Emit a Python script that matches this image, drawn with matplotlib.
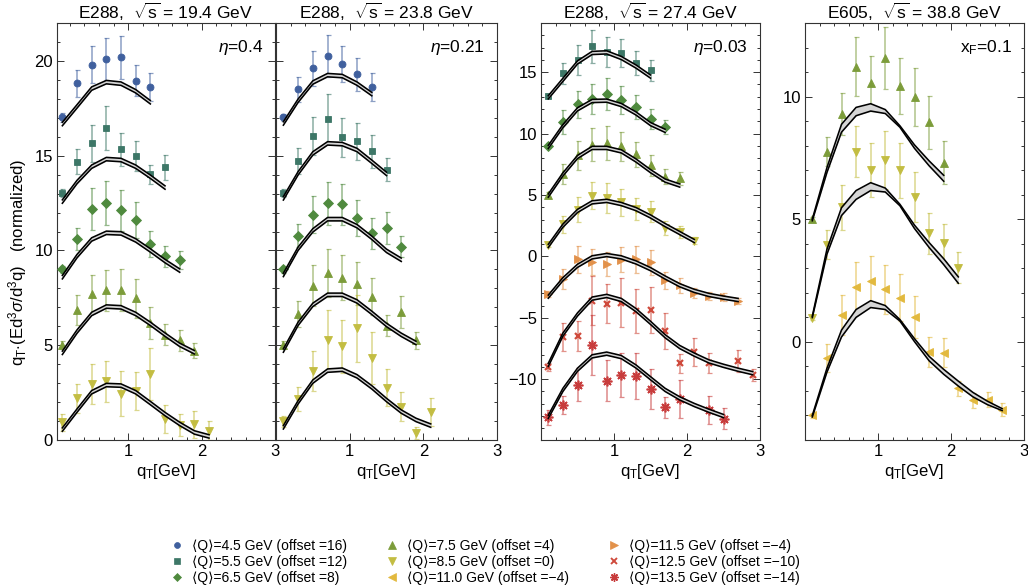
import numpy as np
import matplotlib
matplotlib.use("Agg")
import matplotlib.pyplot as plt
from matplotlib.lines import Line2D
from matplotlib.ticker import MultipleLocator
from matplotlib.colors import to_rgba

plt.rcParams['font.family'] = ['Liberation Sans', 'DejaVu Sans']
plt.rcParams['mathtext.fontset'] = 'custom'
plt.rcParams['mathtext.rm'] = 'Liberation Sans'
plt.rcParams['mathtext.it'] = 'Liberation Sans:italic'
plt.rcParams['mathtext.sf'] = 'Liberation Sans'

# qT bin centres [GeV]
qt = [0.1, 0.3, 0.5, 0.7, 0.9, 1.1, 1.3, 1.5, 1.7, 1.9, 2.1, 2.3, 2.5, 2.7, 2.9]

# series: <Q>, offset, colour, marker
series_q = ['4.5', '5.5', '6.5', '7.5', '8.5', '11.0', '11.5', '12.5', '13.5']
series_offset = ['16', '12', '8', '4', '0', '\u22124', '\u22124', '\u221210', '\u221214']
series_color = ['#40609e', '#3d7767', '#4f8a3e', '#7c9c3a', '#c3bd42',
                '#e2b93e', '#e2914a', '#cf4a3c', '#c83c3c']
series_marker = ['o', 's', 'D', '^', 'v', '<', '>', 'x', (8, 2, 0)]
series_ms = [5, 5, 5, 6, 6, 6, 6, 5, 7]
series_mew = [0.6, 0.6, 0.6, 0.6, 0.6, 0.6, 0.6, 1.6, 1.2]

nan = np.nan

# E288, sqrt(s) = 19.4 GeV
p194_keys = [0, 1, 2, 3, 4]
p194_pts = [
    [17.02, 18.81, 19.79, 20.10, 20.19, 18.96, 18.61],
    [13.02, 14.68, 15.65, 16.47, 15.33, 15.00, 14.02, 14.39],
    [9.00, 10.60, 12.19, 12.49, 12.11, 11.61, 10.35, 9.70, 9.51],
    [5.02, 6.87, 7.71, 7.89, 7.92, 7.48, 6.16, 5.56, 5.25, 4.72],
    [0.93, 2.20, 2.96, 3.10, 2.43, 2.57, 3.49, 1.11, 0.79, 0.83, 0.49],
]
p194_err = [
    [0.24, 0.70, 0.98, 1.10, 1.15, 0.80, 0.73],
    [0.20, 0.65, 0.96, 1.15, 0.85, 0.80, 0.50, 0.66],
    [0.20, 0.60, 1.10, 1.16, 1.07, 0.96, 0.70, 0.55, 0.48],
    [0.20, 0.80, 1.00, 1.07, 1.10, 1.04, 0.84, 0.55, 0.55, 0.40],
    [0.44, 0.77, 1.06, 1.07, 1.19, 1.00, 1.36, 0.72, 0.60, 0.72, 0.50],
]
p194_fit = [
    [16.67, 17.60, 18.54, 18.88, 18.80, 18.40, 17.82],
    [12.58, 13.61, 14.42, 14.82, 14.77, 14.42, 13.89, 13.32],
    [8.59, 9.70, 10.58, 10.93, 10.90, 10.53, 10.00, 9.44, 8.94],
    [4.60, 5.72, 6.65, 7.04, 7.00, 6.65, 6.13, 5.56, 5.02, 4.63],
    [0.55, 1.55, 2.52, 2.90, 2.87, 2.52, 1.95, 1.37, 0.85, 0.40, 0.19],
]
p194_band = 0.09

# E288, sqrt(s) = 23.8 GeV
p238_keys = [0, 1, 2, 3, 4]
p238_pts = [
    [17.02, 18.51, 19.60, 20.26, 19.84, 19.30, 18.63],
    [13.02, 14.72, 16.04, 16.96, 15.98, 15.75, 15.23, 14.25],
    [9.00, 10.78, 11.89, 12.48, 12.43, 11.71, 10.90, 11.20, 10.20],
    [5.02, 6.65, 8.15, 8.82, 8.56, 8.24, 7.57, 6.04, 6.74, 5.25],
    [0.99, 2.17, 3.63, 5.30, 4.95, 5.90, 4.32, 2.75, 1.76, 0.37, 1.50],
]
p238_err = [
    [0.20, 0.66, 0.92, 1.11, 0.97, 0.87, 0.72],
    [0.20, 0.67, 1.00, 1.28, 1.03, 0.98, 0.86, 0.61],
    [0.20, 0.60, 0.97, 1.14, 1.10, 0.97, 0.80, 0.85, 0.57],
    [0.20, 0.70, 1.09, 1.25, 1.20, 1.14, 0.98, 0.57, 0.84, 0.44],
    [0.30, 0.63, 1.05, 1.54, 1.39, 1.76, 1.36, 0.97, 0.77, 0.33, 0.74],
]
p238_fit = [
    [16.70, 17.90, 18.86, 19.25, 19.20, 18.80, 18.25],
    [12.75, 14.07, 15.12, 15.65, 15.61, 15.30, 14.68, 14.04],
    [8.71, 10.09, 11.06, 11.65, 11.65, 11.28, 10.67, 9.98, 9.51],
    [4.72, 6.13, 7.13, 7.66, 7.66, 7.31, 6.71, 6.07, 5.55, 5.12],
    [0.67, 1.99, 3.08, 3.66, 3.71, 3.36, 2.78, 2.11, 1.50, 1.06, 0.76],
]
p238_band = 0.09

# E288, sqrt(s) = 27.4 GeV
p274_keys = [1, 2, 3, 4, 6, 7, 8]
p274_pts = [
    [13.06, 14.92, 16.01, 17.10, 16.64, 16.55, 15.75, 15.14],
    [8.99, 10.96, 12.38, 12.81, 13.22, 12.73, 12.19, 11.20, 10.55],
    [5.03, 6.72, 8.22, 9.10, 9.23, 8.96, 8.31, 7.40, 6.50, 6.35],
    [0.95, 2.60, 3.80, 4.95, 4.75, 4.40, 3.85, 3.65, 2.30, 2.00, 1.28],
    [-3.09, -1.86, -0.22, -0.44, -0.63, -0.27, -0.22, -0.49, -1.94, -2.35, -2.95, -3.22, -3.30, -3.63],
    [-9.02, -6.58, -6.50, -3.60, -3.85, -3.77, -4.45, -4.37, -6.09, -8.69, -7.81, -8.69, nan, -8.55, -9.64],
    [-13.11, -12.10, -10.46, -7.19, -10.11, -9.64, -9.73, -10.79, -12.30, -11.64, nan, -12.51, -13.20],
]
p274_err = [
    [0.20, 0.85, 1.23, 1.34, 1.26, 1.16, 1.00, 0.83],
    [0.20, 0.96, 1.12, 1.23, 1.27, 1.17, 0.98, 0.82, 0.57],
    [0.20, 0.82, 1.20, 1.32, 1.37, 1.16, 1.02, 0.82, 0.60, 0.52],
    [0.20, 0.70, 1.00, 1.10, 1.20, 1.10, 0.90, 0.85, 0.60, 0.50, 0.30],
    [0.25, 0.82, 1.10, 1.05, 0.95, 1.00, 1.10, 1.03, 0.68, 0.60, 0.40, 0.35, 0.30, 0.25],
    [0.30, 1.13, 1.20, 2.00, 1.60, 2.00, 1.80, 1.90, 1.45, 0.77, 1.15, 0.80, nan, 0.90, 0.50],
    [0.64, 0.75, 1.34, 2.45, 1.70, 1.80, 1.88, 1.64, 0.85, 1.54, nan, 1.16, 0.82],
]
p274_fit = [
    [12.95, 14.37, 15.79, 16.56, 16.61, 16.15, 15.46, 14.64],
    [8.91, 10.60, 11.97, 12.65, 12.68, 12.32, 11.64, 10.77, 10.22],
    [4.95, 6.67, 8.09, 8.83, 8.83, 8.55, 7.81, 6.94, 6.17, 5.77],
    [0.85, 2.50, 3.70, 4.40, 4.52, 4.26, 3.85, 3.25, 2.55, 1.90, 1.25],
    [-3.28, -1.86, -0.77, -0.08, 0.11, -0.08, -0.49, -1.04, -1.72, -2.35, -2.81, -3.14, -3.36, -3.55],
    [-8.83, -6.37, -4.73, -3.44, -3.22, -3.55, -4.37, -5.41, -6.50, -7.38, -8.00, -8.55, -8.91, -9.23, -9.51],
    [-13.06, -10.87, -9.23, -8.14, -7.92, -8.20, -8.96, -9.92, -10.87, -11.56, -12.10, -12.57, -13.00],
]
p274_band = 0.13

# E605, sqrt(s) = 38.8 GeV
p388_keys = [3, 4, 5]
p388_pts = [
    [5.01, 7.76, 9.29, 11.22, 10.54, 11.56, 10.43, 10.00, 8.95, 7.31],
    [0.98, 3.97, 5.48, 7.76, 7.00, 7.41, 7.00, 5.92, 4.42, 4.04, 3.02],
    [-2.99, -0.65, 1.09, 2.24, 2.48, 2.14, 1.80, 1.02, -0.41, -0.44, -1.90, -2.38, -2.35, -2.76],
]
p388_err = [
    [0.10, 0.61, 0.86, 1.19, 1.11, 1.27, 1.14, 1.18, 1.09, 0.89],
    [0.10, 0.61, 0.92, 1.05, 1.09, 1.17, 1.12, 1.02, 0.82, 0.77, 0.63],
    [0.10, 0.58, 0.82, 1.02, 1.04, 0.99, 0.95, 0.86, 0.60, 0.60, 0.32, 0.30, 0.30, 0.25],
]
p388_fit = [
    [4.97, 7.00, 8.71, 9.39, 9.56, 9.39, 8.78, 7.96, 7.28, 6.67],
    [1.02, 3.67, 5.31, 5.99, 6.33, 6.19, 5.58, 4.69, 3.95, 3.27, 2.52],
    [-3.03, -1.16, 0.34, 1.16, 1.54, 1.40, 0.88, 0.07, -0.68, -1.22, -1.70, -2.15, -2.49, -2.76],
]
p388_band = [
    [0.03, 0.10, 0.16, 0.17, 0.15, 0.08, 0.03, 0.07, 0.10, 0.12],
    [0.03, 0.10, 0.16, 0.18, 0.16, 0.08, 0.03, 0.07, 0.10, 0.12, 0.13],
    [0.03, 0.08, 0.14, 0.16, 0.14, 0.08, 0.03, 0.06, 0.09, 0.10, 0.10, 0.09, 0.07, 0.04],
]

W, H = 1028, 588
fig = plt.figure(figsize=(W / 100, H / 100), dpi=100)


def add_panel(x0, x1, y0=23, y1=440):
    return fig.add_axes([x0 / W, 1 - y1 / H, (x1 - x0) / W, (y1 - y0) / H])


def draw_panel(ax, keys, pts, errs, fits, band):
    for i, k in enumerate(keys):
        y = np.array(pts[i], dtype=float)
        e = np.array(errs[i], dtype=float)
        x = np.array(qt[:len(y)])
        c = series_color[k]
        ax.errorbar(x, y, yerr=e, fmt='none', ecolor=to_rgba(c, 0.6),
                    elinewidth=1.1, capsize=1.8, capthick=0.9, zorder=2)
        ax.plot(x, y, linestyle='none', marker=series_marker[k], ms=series_ms[k],
                color=c, mec=c, mew=series_mew[k], zorder=3)
        f = np.array(fits[i], dtype=float)
        xf = np.array(qt[:len(f)])
        b = np.array(band[i]) if isinstance(band, list) else band
        ax.fill_between(xf, f - b, f + b, color='#d6d6d6', lw=0, zorder=4)
        ax.plot(xf, f - b, color='black', lw=1.15, zorder=5)
        ax.plot(xf, f + b, color='black', lw=1.15, zorder=5)


def style_axes(ax, xlim, ylim, title, note, ylabels=True):
    ax.set_xlim(*xlim)
    ax.set_ylim(*ylim)
    ax.set_xticks([1, 2, 3])
    ax.xaxis.set_minor_locator(MultipleLocator(0.2))
    ax.yaxis.set_major_locator(MultipleLocator(5))
    ax.yaxis.set_minor_locator(MultipleLocator(1))
    ax.tick_params(which='both', direction='in', top=True, right=True,
                   labelsize=12, color='#333333', width=0.7, pad=3)
    ax.tick_params(which='major', length=5)
    ax.tick_params(which='minor', length=2.5)
    if not ylabels:
        ax.tick_params(labelleft=False)
    for s in ax.spines.values():
        s.set_color('#333333')
        s.set_linewidth(0.8)
    ax.set_title(title, fontsize=12.5, pad=3)
    ax.set_xlabel(r'q$_\mathrm{T}$[GeV]', fontsize=12, labelpad=2)
    ax.text(0.945, 0.942, note, transform=ax.transAxes, ha='right', va='center',
            fontsize=12.5)


ax1 = add_panel(57, 275)
ax2 = add_panel(276, 497)
ax3 = add_panel(541, 760)
ax4 = add_panel(805, 1024)

draw_panel(ax1, p194_keys, p194_pts, p194_err, p194_fit, p194_band)
draw_panel(ax2, p238_keys, p238_pts, p238_err, p238_fit, p238_band)
draw_panel(ax3, p274_keys, p274_pts, p274_err, p274_fit, p274_band)
draw_panel(ax4, p388_keys, p388_pts, p388_err, p388_fit, p388_band)

style_axes(ax1, (0.027, 3), (0, 22), r'E288,  $\sqrt{\mathrm{s}}$ = 19.4 GeV', r'$\eta$=0.4')
style_axes(ax2, (0, 3), (0, 22), r'E288,  $\sqrt{\mathrm{s}}$ = 23.8 GeV', r'$\eta$=0.21',
           ylabels=False)
style_axes(ax3, (0, 3), (-14.95, 19), r'E288,  $\sqrt{\mathrm{s}}$ = 27.4 GeV', r'$\eta$=0.03')
style_axes(ax4, (0, 3), (-4, 13), r'E605,  $\sqrt{\mathrm{s}}$ = 38.8 GeV', r'x$_\mathrm{F}$=0.1')

fig.text(18 / W, 1 - 262 / H,
         r'q$_\mathrm{T}$$\cdot$(Ed$^3$$\sigma$/d$^3$q)   (normalized)',
         rotation=90, ha='center', va='center', fontsize=12)

handles = []
labels = []
for k in range(len(series_q)):
    c = series_color[k]
    handles.append(Line2D([], [], linestyle='none', marker=series_marker[k],
                          ms=series_ms[k] * 0.85, color=c, mec=c,
                          mew=series_mew[k] * 0.85))
    labels.append('\u27e8Q\u27e9=%s GeV (offset =%s)' % (series_q[k], series_offset[k]))

fig.legend(handles, labels, ncol=3, loc='center', bbox_to_anchor=(485 / W, 1 - 562 / H),
           frameon=False, fontsize=10, handlelength=1.0, handletextpad=0.6,
           columnspacing=2.7, labelspacing=0.12, borderpad=0)

fig.savefig('out.png', dpi=100)
